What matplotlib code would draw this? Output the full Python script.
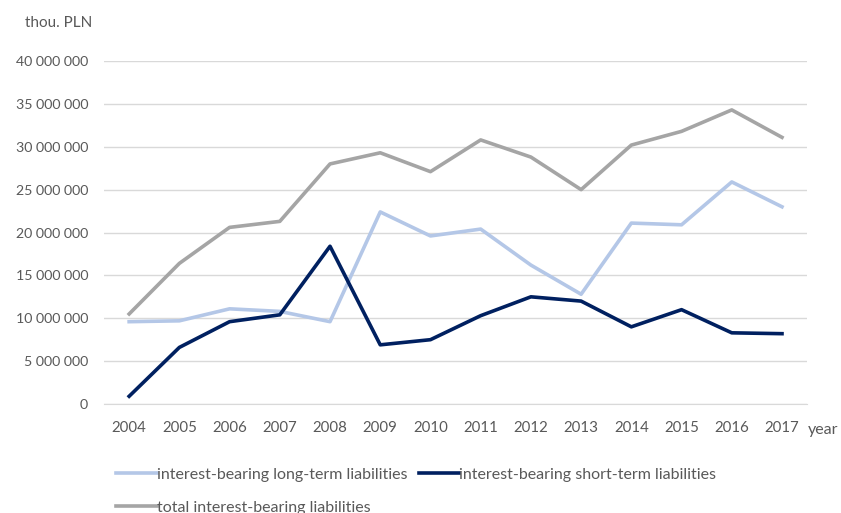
import matplotlib
matplotlib.use("Agg")
import matplotlib.pyplot as plt
from matplotlib.ticker import FuncFormatter

years = list(range(2004, 2018))
long_term = [9.6, 9.7, 11.1, 10.8, 9.6, 22.4, 19.6, 20.4, 16.2, 12.8, 21.1, 20.9, 25.9, 23.0]
short_term = [0.9, 6.6, 9.6, 10.4, 18.4, 6.9, 7.5, 10.3, 12.5, 12.0, 9.0, 11.0, 8.3, 8.2]
total = [10.5, 16.4, 20.6, 21.3, 28.0, 29.3, 27.1, 30.8, 28.8, 25.0, 30.2, 31.8, 34.3, 31.1]

long_term = [v * 1e6 for v in long_term]
short_term = [v * 1e6 for v in short_term]
total = [v * 1e6 for v in total]

TEXT = "#595959"
plt.rcParams["font.family"] = ["Lato", "DejaVu Sans"]
plt.rcParams["font.size"] = 10.5

fig = plt.figure(figsize=(8.41, 5.13), dpi=100)
ax = fig.add_axes([0.1237, 0.2125, 0.836, 0.6685])

l1, = ax.plot(years, long_term, color="#B4C7E7", lw=2.6, label="interest-bearing long-term liabilities")
l2, = ax.plot(years, short_term, color="#002060", lw=2.6, label="interest-bearing short-term liabilities")
l3, = ax.plot(years, total, color="#A5A5A5", lw=2.6, label="total interest-bearing liabilities")

ax.set_xlim(2003.5, 2017.5)
ax.set_ylim(0, 40e6)
ax.set_yticks(range(0, 40000001, 5000000))
ax.yaxis.set_major_formatter(FuncFormatter(lambda v, _: f"{int(v):,}".replace(",", " ")))
ax.set_xticks(years)
ax.grid(axis="y", color="#D9D9D9", lw=1)
ax.set_axisbelow(True)
for side in ["top", "right", "left"]:
    ax.spines[side].set_visible(False)
ax.spines["bottom"].set_color("#D9D9D9")
ax.tick_params(length=0, colors=TEXT)
ax.tick_params(axis="y", pad=11.5, labelsize=10.2)
ax.tick_params(axis="x", pad=12, labelsize=10.8)

fig.text(0.030, 0.955, "thou. PLN", color=TEXT, fontsize=11, va="center")
fig.text(0.960, 0.162, "year", color=TEXT, fontsize=11.5, va="center")

leg = fig.legend([l1, l3, l2], [l1.get_label(), l3.get_label(), l2.get_label()],
                 ncol=2, loc="upper left", bbox_to_anchor=(0.121, 0.116),
                 frameon=False, handlelength=2.55, handletextpad=0.0,
                 columnspacing=0.7, labelspacing=1.15, fontsize=11.5)
for t in leg.get_texts():
    t.set_color(TEXT)

fig.savefig("out.png", dpi=100)
